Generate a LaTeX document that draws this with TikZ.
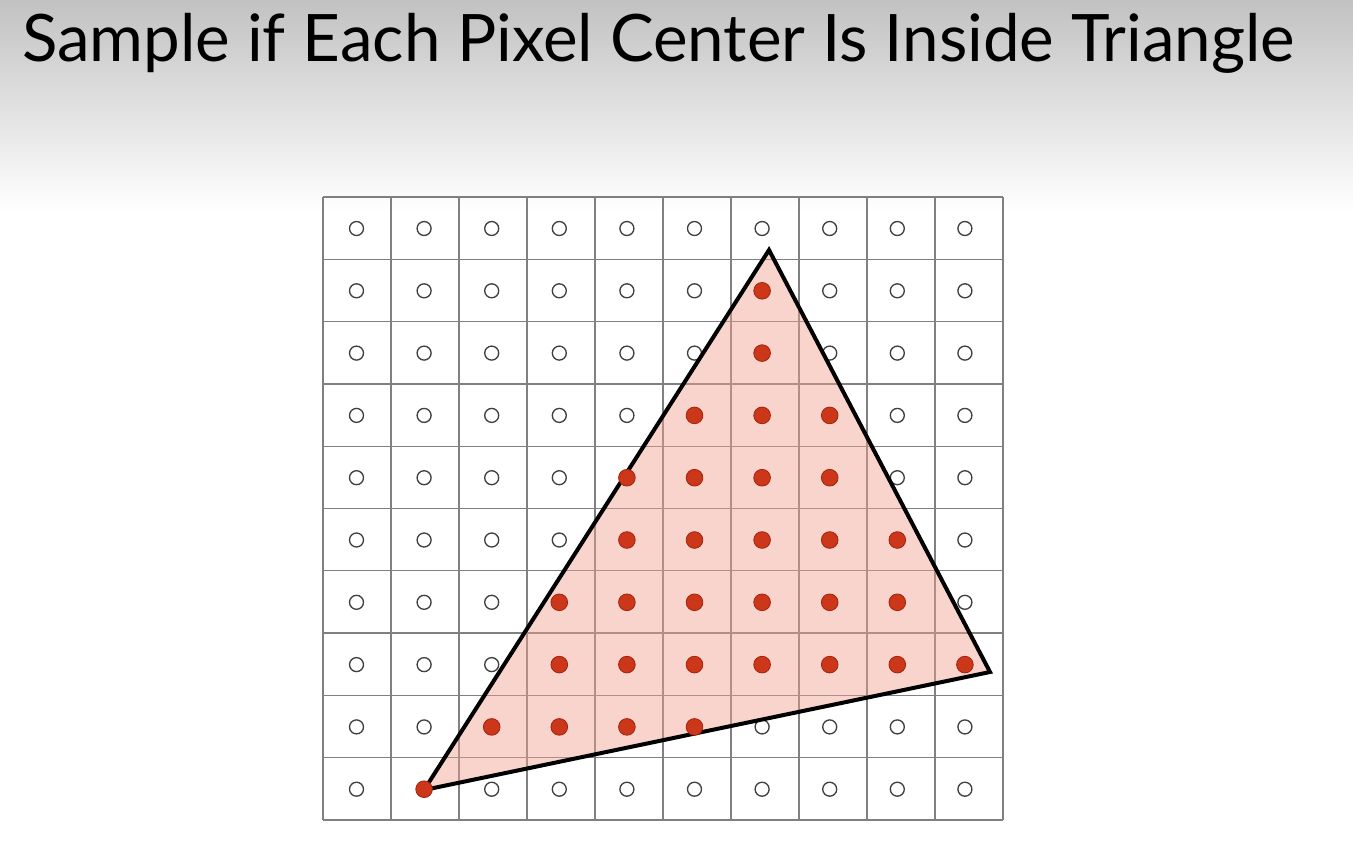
\documentclass[tikz,border=0pt]{standalone}
\usepackage{fontspec}
\setmainfont{Lato}
\usetikzlibrary{positioning}
\begin{document}
\begin{tikzpicture}[
    x=0.75pt, y=-0.75pt,
    px/.style = {circle, draw=black!75, line width=1pt,
                  inner sep=0pt, minimum size=10.5pt},
    hit/.style = {circle, draw={rgb,255:red,160;green,35;blue,15},
                  fill={rgb,255:red,205;green,55;blue,25},
                  line width=0.6pt, inner sep=0pt, minimum size=12.5pt},
    cell/.style = {draw=black!50, line width=1pt},
    tri/.style = {draw=black, line width=3pt, line join=miter},
    inside/.style = {fill={rgb,255:red,240;green,160;blue,145}, fill opacity=0.45}]
%---
\useasboundingbox (0,0) rectangle (1353,840);
\fill[white] (0,0) rectangle (1353,840);
\shade[top color=black!24, bottom color=white] (0,0) rectangle (1353,212);
% title
\node (title) [anchor=base west, inner sep=0pt,
               font=\fontsize{49.1}{55}\selectfont] at (22,61)
      {Sample if Each Pixel Center Is Inside Triangle};
% grid
\foreach \i in {0,...,10}
  {\draw[cell] ({323+68*\i},197) -- ({323+68*\i},820);
   \draw[cell] (323,{197+62.3*\i}) -- (1003,{197+62.3*\i});}
% sample points
\foreach \i in {0,...,9}
  \foreach \j in {0,...,9}
    \node (c-\i-\j) [px] at ({356.5+67.6*\i},{228.5+62.3*\j}) {};
% triangle
\coordinate (A) at (769,250);
\coordinate (B) at (990,672);
\coordinate (C) at (424,790);
\fill[inside] (A) -- (B) -- (C) -- cycle;
\draw[tri]    (A) -- (B) -- (C) -- cycle;
% covered samples
\foreach \i/\j in {6/1, 6/2, 5/3, 6/3, 7/3, 4/4, 5/4, 6/4, 7/4,
                   4/5, 5/5, 6/5, 7/5, 8/5, 3/6, 4/6, 5/6, 6/6, 7/6, 8/6,
                   3/7, 4/7, 5/7, 6/7, 7/7, 8/7, 9/7, 2/8, 3/8, 4/8, 5/8, 1/9}
    \node (h-\i-\j) [hit] at (c-\i-\j) {};
\end{tikzpicture}
\end{document}
